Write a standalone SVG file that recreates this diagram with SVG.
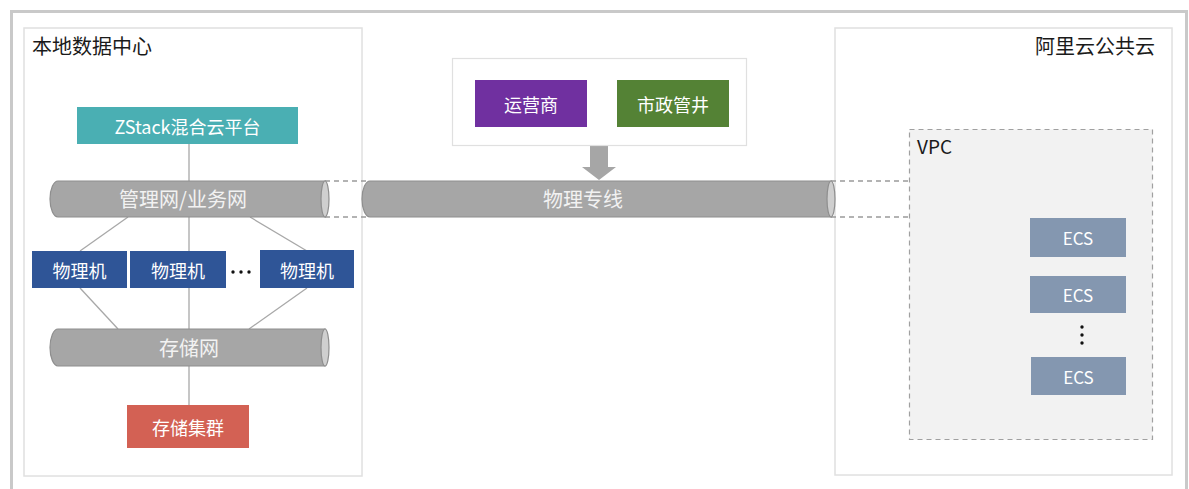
<svg xmlns="http://www.w3.org/2000/svg" width="1189" height="489" viewBox="0 0 1189 489">
<style>
text{font-family:"Noto Sans CJK SC","Noto Sans",sans-serif;}
.title{font-size:20px;fill:#1a1a1a;}
.lbl{font-size:18px;fill:#ffffff;text-anchor:middle;dominant-baseline:central;}
.plbl{font-size:20px;fill:#f2f2f2;text-anchor:middle;dominant-baseline:central;}
.ecs{font-size:17px;}
.panel{fill:#ffffff;stroke:#e0e0e0;stroke-width:1.5;}
.pipe{fill:#a6a6a6;stroke:#8e8e8e;stroke-width:1.2;}
.cap{fill:#cfcfcf;stroke:#8e8e8e;stroke-width:1.2;}
.dash{fill:none;stroke:#9a9a9a;stroke-width:1.3;stroke-dasharray:5,4;}
.ln{stroke:#a8a8a8;stroke-width:1.3;fill:none;}
</style>
<rect x="0" y="0" width="1189" height="489" fill="#ffffff"/>
<rect x="11.5" y="11.5" width="1175" height="500" fill="#ffffff" stroke="#c9c9c9" stroke-width="3"/>

<g id="local-dc">
<rect class="panel" x="24" y="28" width="338" height="448"/>
<text class="title" x="32" y="54">本地数据中心</text>
</g>
<g id="aliyun">
<rect class="panel" x="835" y="28" width="337" height="447"/>
<text class="title" x="1155" y="54" text-anchor="end">阿里云公共云</text>
</g>

<g id="connectors">
<line class="ln" x1="189" y1="144" x2="189" y2="405"/>
<line class="ln" x1="128" y1="217" x2="80" y2="251"/>
<line class="ln" x1="250" y1="217" x2="307" y2="251"/>
<line class="ln" x1="80" y1="288" x2="118" y2="329"/>
<line class="ln" x1="307" y1="288" x2="249" y2="329"/>
<path class="dash" d="M325 181 H368 M325 217 H368"/>
<path class="dash" d="M831 181 H909 M831 217 H909"/>
<polygon points="590,145 608,145 608,167 616,167 599,180 582,167 590,167" fill="#a6a6a6"/>
</g>

<g id="vpc">
<rect x="909.5" y="129.5" width="243" height="310" fill="#f2f2f2" stroke="#a0a0a0" stroke-width="1.2" stroke-dasharray="5,4"/>
<text x="917" y="154" style="font-size:19px;fill:#1a1a1a">VPC</text>
</g>

<g id="zstack">
<rect x="77" y="107" width="221" height="37" fill="#4aafb3"/>
<text class="lbl" x="187.5" y="125.5">ZStack混合云平台</text>
</g>

<g id="mgmt-net">
<path class="pipe" d="M58 181 H325 V217 H58 A8 18 0 0 1 58 181 Z"/>
<ellipse class="cap" cx="325" cy="199" rx="4" ry="18"/>
<text class="plbl" x="183" y="198">管理网/业务网</text>
</g>

<g id="line-net">
<path class="pipe" d="M370 181 H831 V217 H370 A8 18 0 0 1 370 181 Z"/>
<ellipse class="cap" cx="831" cy="199" rx="4" ry="18"/>
<text class="plbl" x="583" y="198">物理专线</text>
</g>

<g id="storage-net">
<path class="pipe" d="M58 329 H325 V366 H58 A8 18.5 0 0 1 58 329 Z"/>
<ellipse class="cap" cx="325" cy="347.5" rx="4" ry="18.5"/>
<text class="plbl" x="189" y="347">存储网</text>
</g>

<g id="pm1">
<rect x="32" y="251" width="95" height="37" fill="#2f5597"/>
<text class="lbl" x="79.5" y="269.5">物理机</text>
</g>
<g id="pm2">
<rect x="130" y="251" width="96" height="37" fill="#2f5597"/>
<text class="lbl" x="178" y="269.5">物理机</text>
</g>
<g id="pm-dots">
<circle cx="233" cy="272" r="1.7" fill="#111"/>
<circle cx="241" cy="272" r="1.7" fill="#111"/>
<circle cx="249" cy="272" r="1.7" fill="#111"/>
</g>
<g id="pm3">
<rect x="260" y="250" width="94" height="38" fill="#2f5597"/>
<text class="lbl" x="307" y="269.5">物理机</text>
</g>

<g id="storage-cluster">
<rect x="127" y="405" width="122" height="43" fill="#d36154"/>
<text class="lbl" x="188" y="426.5">存储集群</text>
</g>

<g id="carrier-group">
<rect x="452.5" y="58.5" width="294" height="87" fill="#ffffff" stroke="#e0e0e0" stroke-width="1.2"/>
</g>
<g id="carrier">
<rect x="475" y="80" width="112" height="47" fill="#7030a0"/>
<text class="lbl" x="531" y="103.5">运营商</text>
</g>
<g id="municipal">
<rect x="617" y="80" width="112" height="47" fill="#548235"/>
<text class="lbl" x="673" y="103.5">市政管井</text>
</g>

<g id="ecs1">
<rect x="1030" y="218" width="96" height="39" fill="#8497b0"/>
<text class="lbl ecs" x="1078" y="237.5">ECS</text>
</g>
<g id="ecs2">
<rect x="1030" y="276" width="96" height="37" fill="#8497b0"/>
<text class="lbl ecs" x="1078" y="294.5">ECS</text>
</g>
<g id="ecs-dots">
<circle cx="1082" cy="327" r="1.7" fill="#111"/>
<circle cx="1082" cy="335" r="1.7" fill="#111"/>
<circle cx="1082" cy="343" r="1.7" fill="#111"/>
</g>
<g id="ecs3">
<rect x="1031" y="357" width="95" height="38" fill="#8497b0"/>
<text class="lbl ecs" x="1078.5" y="376">ECS</text>
</g>
</svg>
